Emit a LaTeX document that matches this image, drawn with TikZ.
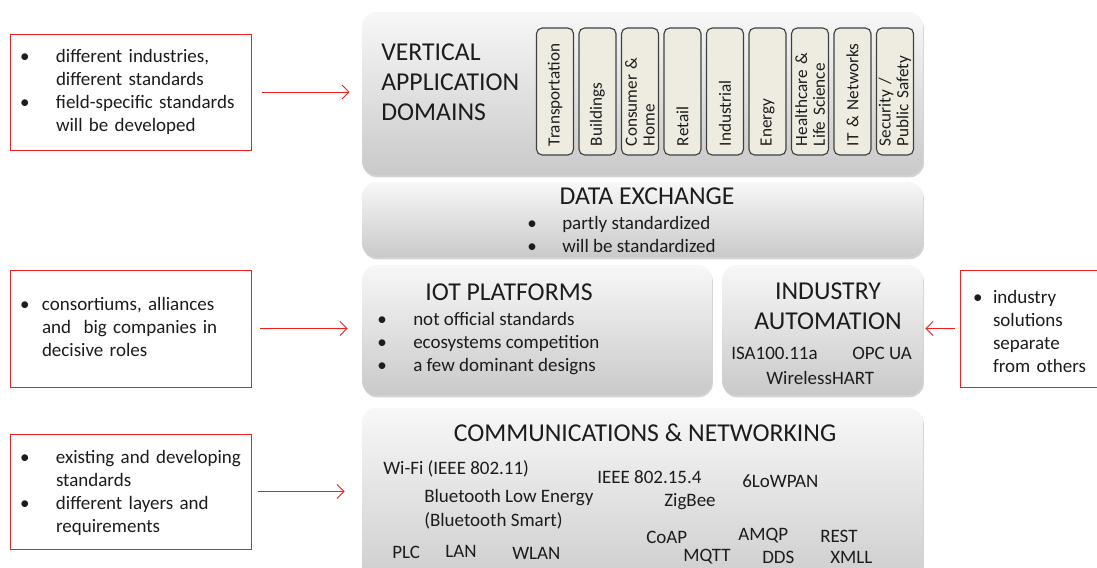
\documentclass[tikz,border=0pt]{standalone}
\usepackage{fontspec}
\setmainfont{Carlito}
\usetikzlibrary{arrows.meta,shadows}
\definecolor{noteRed}{RGB}{240,30,30}
\definecolor{domFill}{RGB}{238,236,225}
\definecolor{inkGrey}{RGB}{28,28,28}
\newlength{\pu}
\setlength{\pu}{0.025cm}
\newcommand{\bodysize}{\fontsize{13.5}{16.4}\selectfont}
\newcommand{\headsize}{\fontsize{18.3}{21.4}\selectfont}
\newcommand{\domsize}{\fontsize{12.2}{12.6}\selectfont\hyphenpenalty=10000}
\tikzset{
  layer/.style={rounded corners=10pt, top color=gray!6, bottom color=gray!42,
    drop shadow={opacity=0.35, shadow xshift=0.6pt, shadow yshift=-1.6pt}},
  dombox/.style={draw=black!75, line width=0.8pt, fill=domFill, rounded corners=4pt,
    rotate=90, minimum width=127\pu, minimum height=37\pu, inner xsep=9\pu,
    inner ysep=1pt, text width=109\pu, align=left, font=\domsize, text=inkGrey},
  note/.style={draw=noteRed, line width=0.7pt, fill=white, inner xsep=10\pu,
    font=\bodysize, text=inkGrey},
  head/.style={font=\headsize, text=inkGrey, inner sep=0pt},
  item/.style={font=\bodysize, text=inkGrey, inner sep=0pt, anchor=west},
  pointer/.style={draw=noteRed, line width=0.7pt, -{Straight Barb[length=5pt,width=10pt]}}
}
\begin{document}
\begin{tikzpicture}[x=1\pu, y=-1\pu]
  \useasboundingbox (0,0) rectangle (1097,567);

  \node[layer, minimum width=561\pu, minimum height=163\pu] (vert) at (642.5,93.5) {};
  \node[layer, minimum width=561\pu, minimum height=75\pu] (dex) at (642.5,219.5) {};
  \node[layer, minimum width=350\pu, minimum height=130\pu] (iot) at (537,330) {};
  \node[layer, minimum width=201\pu, minimum height=130\pu] (ind) at (822.5,330) {};
  \node[layer, minimum width=561\pu, minimum height=192\pu] (comm) at (642.5,504) {};

  \node[head, anchor=west, align=left] (verttitle) at (381,82)
    {VERTICAL\\APPLICATION\\DOMAINS};
  \foreach \lbl [count=\i from 0] in {Transportation, Buildings, {Consumer \&\\Home},
      Retail, Industrial, Energy, {Healthcare \&\\Life Science}, IT \& Networks,
      {Security /\\Public Safety}}
    \node[dombox] (dom\i) at ({555+42.5*\i},91.5) {\lbl};

  \node[head] (dextitle) at (647,196) {DATA EXCHANGE};
  \node[item] (dexlist) at (527,236.5) {\begin{tabular}{@{}p{35\pu}@{}l@{}}
    \textbullet & partly standardized\\
    \textbullet & will be standardized
  \end{tabular}};

  \node[head] (iottitle) at (509,292) {IOT PLATFORMS};
  \node[item] (iotlist) at (377,344) {\begin{tabular}{@{}p{36\pu}@{}l@{}}
    \textbullet & not official standards\\
    \textbullet & ecosystems competition\\
    \textbullet & a few dominant designs
  \end{tabular}};

  \node[head, align=center] (indtitle) at (828,306.5) {INDUSTRY\\AUTOMATION};
  \node[item] (isa) at (731,353) {ISA100.11a};
  \node[item] (opc) at (852,353) {OPC UA};
  \node[item] (whart) at (766,378) {WirelessHART};

  \node[head] (commtitle) at (645,433) {COMMUNICATIONS \& NETWORKING};
  \foreach \px/\py/\txt [count=\k] in {383/469/{Wi-Fi (IEEE 802.11)},
      597/477/{IEEE 802.15.4}, 742/481/{6LoWPAN}, 424/498/{Bluetooth Low Energy},
      664/502/{ZigBee}, 424/521/{(Bluetooth Smart)}, 646/537/{CoAP},
      738/536/{AMQP}, 820/536/{REST}, 392/552/{PLC}, 445/551/{LAN},
      512/553/{WLAN}, 683/557/{MQTT}, 762/557/{DDS}, 830/557/{XMLL}}
    \node[item] (std\k) at (\px,\py) {\txt};

  \node[note, minimum width=241\pu, minimum height=116\pu, text width=221\pu]
    (note1) at (130.5,92) {\begin{tabular}{@{}p{36\pu}@{}l@{}}
    \textbullet & different industries,\\
     & different standards\\
    \textbullet & field-specific standards\\
     & will be developed
  \end{tabular}};
  \node[note, minimum width=241\pu, minimum height=117\pu, text width=221\pu]
    (note2) at (130.5,328.5) {\begin{tabular}{@{}p{22\pu}@{}l@{}}
    \textbullet & consortiums, alliances\\
     & and\ \ big companies in\\
     & decisive roles
  \end{tabular}};
  \node[note, minimum width=241\pu, minimum height=115\pu, text width=221\pu]
    (note3) at (130.5,491.5) {\raisebox{-2\pu}[\height][\depth]{\begin{tabular}{@{}p{36\pu}@{}l@{}}
    \textbullet & existing and developing\\
     & standards\\
    \textbullet & different layers and\\
     & requirements
  \end{tabular}}};
  \node[note, minimum width=150\pu, minimum height=117\pu, inner xsep=13\pu,
    text width=124\pu] (note4) at (1035,328.5) {\raisebox{-5\pu}[\height][\depth]{\begin{tabular}{@{}p{20\pu}@{}l@{}}
    \textbullet & industry\\
     & solutions\\
     & separate\\
     & from others
  \end{tabular}}};

  \draw[pointer, shorten <=11\pu, shorten >=12\pu] (note1.east) -- (note1.east -| vert.west);
  \draw[pointer, shorten <=9\pu, shorten >=14\pu] (note2.east) -- (note2.east -| iot.west);
  \draw[pointer, shorten <=7\pu, shorten >=17\pu] (note3.east) -- (note3.east -| comm.west);
  \draw[pointer, shorten <=5\pu, shorten >=2\pu] (note4.west) -- (note4.west -| ind.east);
\end{tikzpicture}
\end{document}
